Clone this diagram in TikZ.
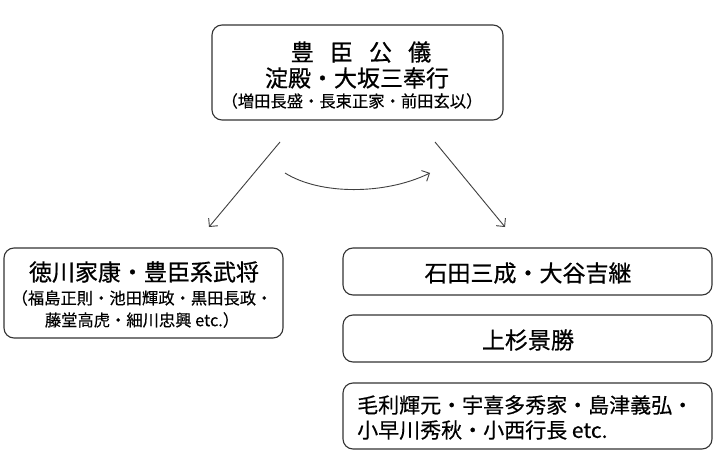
\documentclass[tikz,border=0pt]{standalone}
\usepackage{fontspec}
\setmainfont{Noto Sans CJK JP}
\newfontfamily\heavy{Noto Sans CJK JP}[FakeBold=0.7]
\newfontfamily\semi{Noto Sans CJK JP}[FakeBold=0.4]
\usetikzlibrary{arrows.meta}
\begin{document}
\begin{tikzpicture}[x=1pt,y=-1pt,
  box/.style={draw=black!80,line width=1.1pt,rounded corners=10pt},
  big/.style={font=\heavy\fontsize{23}{26}\selectfont,inner sep=0pt},
  mid/.style={font=\semi\fontsize{21}{24}\selectfont,inner sep=0pt},
  small/.style={font=\semi\fontsize{16.3}{19}\selectfont,inner sep=0pt},
  arr/.style={draw=black!75,line width=0.9pt,-{Straight Barb[length=6pt,width=12pt]}}]
\useasboundingbox (0,0) rectangle (714,476);
\fill[white] (0,0) rectangle (714,476);
% top box
\draw[box] (212,25) rectangle (503,120);
\node[big] (t1) at (361,52) {豊\hspace{0.7em}臣\hspace{0.7em}公\hspace{0.7em}儀};
\node[big] (t2) at (357,78) {淀殿・大坂三奉行};
\node[small] (t3) at (352,101) {（増田長盛・長束正家・前田玄以）};
% left box
\draw[box] (4,248) rectangle (283,338);
\node[big] (l1) at (144,272) {徳川家康・豊臣系武将};
\node[small] (l2) at (142,298) {（福島正則・池田輝政・黒田長政・};
\node[small] (l3) at (142,320) {藤堂高虎・細川忠興 etc.）};
% right boxes
\draw[box] (343,248) rectangle (712,295);
\node[big] (r1) at (528,273) {石田三成・大谷吉継};
\draw[box] (343,315) rectangle (712,362);
\node[big] (r2) at (528,340) {上杉景勝};
\draw[box] (343,383) rectangle (712,449);
\node[mid,anchor=west] (r3) at (357,405) {毛利輝元・宇喜多秀家・島津義弘・};
\node[mid,anchor=west] (r4) at (357,430) {小早川秀秋・小西行長 etc.};
% arrows
\coordinate (a1s) at (280,142);
\coordinate (a1e) at (209,227);
\coordinate (a2s) at (435,142);
\coordinate (a2e) at (505,227);
\coordinate (cs) at (285,173);
\coordinate (ce) at (430,173);
\draw[arr] (a1s) -- (a1e);
\draw[arr] (a2s) -- (a2e);
\draw[arr] (cs) .. controls (320,195) and (385,195) .. (ce);
\end{tikzpicture}
\end{document}
